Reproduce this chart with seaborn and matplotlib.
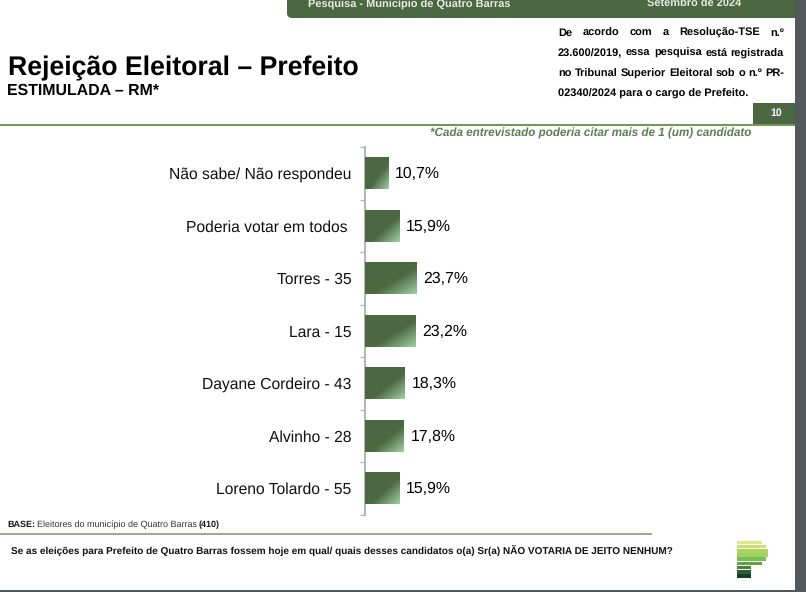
import matplotlib
matplotlib.use("Agg")
import matplotlib.pyplot as plt
from matplotlib.patches import FancyBboxPatch, Rectangle
import numpy as np
import pandas as pd
import seaborn as sns

# valores
categorias = ["Não sabe/ Não respondeu", "Poderia votar em todos ", "Torres - 35", "Lara - 15",
              "Dayane Cordeiro - 43", "Alvinho - 28", "Loreno Tolardo - 55"]
valores = [10.7, 15.9, 23.7, 23.2, 18.3, 17.8, 15.9]
rotulos = ["10,7%", "15,9%", "23,7%", "23,2%", "18,3%", "17,8%", "15,9%"]

nota = ["De acordo com a Resolução-TSE n.º",
        "23.600/2019, essa pesquisa está registrada",
        "no Tribunal Superior Eleitoral sob o n.º PR-",
        "02340/2024 para o cargo de Prefeito."]

# logo: largura de cada faixa e cor
logo_fim = [762, 766, 768, 768, 766, 762, 751, 751, 751]
logo_cores = ["#dfe88c", "#c9e070", "#aed455", "#a2cf68", "#76c04f", "#5da544", "#4f7d3e", "#2c5a34", "#12401f"]

W, H = 806, 592
VERDE = "#4c6842"

sns.set_theme(style="white")
plt.rcParams["font.family"] = ["Liberation Sans", "DejaVu Sans"]
plt.rcParams["text.hinting"] = "no_hinting"
plt.rcParams["text.hinting_factor"] = 8

fig = plt.figure(figsize=(W / 100, H / 100), dpi=100, facecolor="white")

# camada de fundo em pixels
bg = fig.add_axes([0, 0, 1, 1])
bg.set_xlim(0, W)
bg.set_ylim(H, 0)
bg.axis("off")

bg.add_patch(Rectangle((795, 0), 11, H, color="#52585c", lw=0))
bg.add_patch(Rectangle((0, 590), W, 2, color="#52585c", lw=0))
bg.add_patch(FancyBboxPatch((287, -10), 520, 28, boxstyle="round,pad=0,rounding_size=5", color=VERDE, lw=0))
bg.add_patch(Rectangle((795, 0), 11, 19, color="#52585c", lw=0))
bg.text(308, 7, "Pesquisa - Município de Quatro Barras", fontsize=7.9, weight="bold", color="#e8ede4", va="baseline")
bg.text(647, 7, "Setembro de 2024", fontsize=7.9, weight="bold", color="#e8ede4", va="baseline")

bg.text(8, 75, "Rejeição Eleitoral – Prefeito", fontsize=19.15, weight="bold", color="black", va="baseline")
bg.text(7, 95, "ESTIMULADA – RM*", fontsize=11.4, weight="bold", color="black", va="baseline")

# nota justificada, palavra por palavra
fig.canvas.draw()
rend = fig.canvas.get_renderer()
x0, x1 = 558, 784
for n, linha in enumerate(nota):
    y = 36 + n * 20.2
    if n == 3:
        bg.text(x0, y, linha, fontsize=7.9, weight="bold", color="black", va="baseline")
        continue
    palavras = linha.split(" ")
    temp = [bg.text(0, y, p, fontsize=7.9, weight="bold", color="black", va="baseline") for p in palavras]
    larg = [t.get_window_extent(rend).width for t in temp]
    esp = (x1 - x0 - sum(larg)) / (len(palavras) - 1)
    x = x0
    for t, l in zip(temp, larg):
        t.set_x(x)
        x += l + esp

bg.add_patch(Rectangle((753, 103), 42, 21, color=VERDE, lw=0))
bg.text(776, 113.5, "10", fontsize=7.6, weight="bold", color="white", ha="center", va="center")
bg.plot([0, 795], [124.5, 124.5], color="#5b8035", lw=1.2, solid_capstyle="butt")
bg.text(751, 133.5, "*Cada entrevistado poderia citar mais de 1 (um) candidato", fontsize=8.4, weight="bold",
        style="italic", color="#5e7d55", ha="right", va="center")

bg.text(7, 525, "BASE:", fontsize=6.45, weight="bold", color="#1a1a1a", va="center")
bg.text(37, 525, "Eleitores do município de Quatro Barras", fontsize=6.45, color="#333333", va="center")
bg.text(199, 525, "(410)", fontsize=6.45, weight="bold", color="#1a1a1a", va="center")
bg.plot([0, 652], [534, 534], color="#8ba57a", lw=1.3, solid_capstyle="butt")
bg.text(11, 550.5, "Se as eleições para Prefeito de Quatro Barras fossem hoje em qual/ quais desses candidatos o(a) Sr(a) NÃO VOTARIA DE JEITO NENHUM?",
        fontsize=7.2, weight="bold", color="#111111", va="center")

for i, (fim, cor) in enumerate(zip(logo_fim, logo_cores)):
    topo = 540.5 + i * 4.22
    bg.add_patch(Rectangle((737, topo), fim - 737, 3.6, color=cor, lw=0))

# grafico de barras
esq, dir_, topo, base = 365, 780, 147, 514.5
ax = fig.add_axes([esq / W, 1 - base / H, (dir_ - esq) / W, (base - topo) / H])
ax.patch.set_alpha(0)
df = pd.DataFrame({"categoria": categorias, "valor": valores})
sns.barplot(data=df, x="valor", y="categoria", ax=ax, color=VERDE, width=0.6, saturation=1)
ax.set_xlim(0, (dir_ - esq) / 2.16)
ax.set_ylim(len(categorias) - 0.5, -0.5)
ax.set_xlabel("")
ax.set_ylabel("")
ax.set_xticks([])

# gradiente diagonal nas barras, recortado pelo retangulo de cada uma
grade = np.linspace(0, 1, 60)
gx, gy = np.meshgrid(grade, grade)
t = np.clip((gx + gy - 1.15) / 0.85, 0, 1)
escuro = np.array([0x4c, 0x68, 0x42]) / 255
claro = np.array([0x9f, 0xcf, 0xa2]) / 255
img = escuro[None, None, :] * (1 - t[..., None]) + claro[None, None, :] * t[..., None]
for barra in ax.patches:
    bx, by, bw, bh = barra.get_x(), barra.get_y(), barra.get_width(), barra.get_height()
    ax.imshow(img, extent=(bx, bx + bw, by + bh, by), aspect="auto", zorder=3, interpolation="bilinear")
ax.set_xlim(0, (dir_ - esq) / 2.16)
ax.set_ylim(len(categorias) - 0.5, -0.5)

for i, (v, r) in enumerate(zip(valores, rotulos)):
    ax.annotate(r, (v, i), xytext=(5, -0.7), textcoords="offset points", fontsize=11.4, color="black", va="center")

sns.despine(ax=ax, top=True, right=True, bottom=True)
ax.spines["left"].set_color("#b4b6ba")
ax.spines["left"].set_linewidth(1.5)
ax.set_yticks(np.arange(-0.5, len(categorias)), minor=True)
ax.tick_params(axis="y", which="minor", left=True, length=3.5, width=0.9, color="#b4b6ba")
ax.tick_params(axis="y", which="major", left=False, pad=3.7, labelsize=11.25, labelcolor="#111111")

fig.savefig("out.png", dpi=100, facecolor="white")
